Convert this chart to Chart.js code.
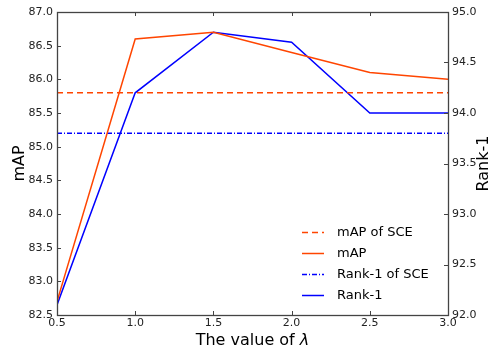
<!DOCTYPE html>
<html lang="en">
<head>
  <meta charset="UTF-8">
  <title>mAP / Rank-1 vs lambda</title>
  <script src="https://cdn.jsdelivr.net/npm/chart.js"></script>
  <style>
    body { margin: 0; background: #ffffff; }
    #wrap { width: 495px; height: 349px; }
  </style>
</head>
<body>
  <div id="wrap"><canvas id="chart" width="495" height="349"></canvas></div>

  <script>
    // values
    const lambdas = [0.5, 1.0, 1.5, 2.0, 2.5, 3.0];
    const mapVals = [82.7, 86.6, 86.7, 86.4, 86.1, 86.0];
    const rank1Vals = [92.1, 94.2, 94.8, 94.7, 94.0, 94.0];
    const mapSCE = 85.8;
    const rank1SCE = 93.8;

    const RED = "#ff4500";
    const BLUE = "#0000ff";
    const FONT = "'DejaVu Sans', sans-serif";

    const first = lambdas[0], last = lambdas[lambdas.length - 1];
    const pts = (ys) => lambdas.map((x, i) => ({ x: x, y: ys[i] }));
    const flat = (v) => [{ x: first, y: v }, { x: last, y: v }];

    // inward ticks, frame, axis titles and the legend box
    const decor = {
      id: "decor",
      afterDraw(chart) {
        const ctx = chart.ctx;
        const a = chart.chartArea;
        const sx = chart.scales.x, sl = chart.scales.y, sr = chart.scales.y2;
        ctx.save();
        ctx.strokeStyle = "#444";
        ctx.lineWidth = 1;
        ctx.beginPath();
        sx.ticks.forEach(t => {
          const p = Math.round(sx.getPixelForValue(t.value)) + 0.5;
          ctx.moveTo(p, a.bottom); ctx.lineTo(p, a.bottom - 4);
          ctx.moveTo(p, a.top); ctx.lineTo(p, a.top + 4);
        });
        sl.ticks.forEach(t => {
          const p = Math.round(sl.getPixelForValue(t.value)) + 0.5;
          ctx.moveTo(a.left, p); ctx.lineTo(a.left + 4, p);
        });
        sr.ticks.forEach(t => {
          const p = Math.round(sr.getPixelForValue(t.value)) + 0.5;
          ctx.moveTo(a.right, p); ctx.lineTo(a.right - 4, p);
        });
        ctx.stroke();
        ctx.lineWidth = 1.3;
        ctx.strokeRect(Math.round(a.left) + 0.5, Math.round(a.top) + 0.5,
          Math.round(a.right - a.left), Math.round(a.bottom - a.top));

        // axis titles
        ctx.fillStyle = "#000";
        ctx.font = "16px " + FONT;
        ctx.textAlign = "center";
        ctx.textBaseline = "middle";
        const cy = (a.top + a.bottom) / 2;
        ctx.save();
        ctx.translate(20, cy); ctx.rotate(-Math.PI / 2);
        ctx.fillText("mAP", 0, 0);
        ctx.restore();
        ctx.save();
        ctx.translate(484, cy); ctx.rotate(-Math.PI / 2);
        ctx.fillText("Rank-1", 0, 0);
        ctx.restore();
        const cx = (a.left + a.right) / 2;
        ctx.textBaseline = "alphabetic";
        const main = "The value of ";
        const wMain = ctx.measureText(main).width;
        ctx.font = "italic 16px " + FONT;
        const wL = ctx.measureText("\u03bb").width;
        const x0 = cx - (wMain + wL) / 2;
        ctx.textAlign = "left";
        ctx.font = "16px " + FONT;
        ctx.fillText(main, x0, 345);
        ctx.font = "italic 16px " + FONT;
        ctx.fillText("\u03bb", x0 + wMain, 345);

        // legend
        ctx.font = "13px " + FONT;
        ctx.textBaseline = "middle";
        chart.data.datasets.forEach((ds, i) => {
          const y = 232 + i * 21 + 0.5;
          ctx.strokeStyle = ds.borderColor;
          ctx.lineWidth = ds.borderWidth;
          ctx.setLineDash(ds.borderDash || []);
          ctx.beginPath();
          ctx.moveTo(302, y); ctx.lineTo(324, y);
          ctx.stroke();
          ctx.setLineDash([]);
          ctx.fillStyle = "#000";
          ctx.fillText(ds.label, 337, y);
        });
        ctx.restore();
      }
    };

    const tickFont = { family: FONT, size: 11 };
    const noGrid = { display: false, drawTicks: false, tickLength: 0 };

    new Chart(document.getElementById("chart"), {
      type: "line",
      data: {
        datasets: [
          { label: "mAP of SCE", data: flat(mapSCE), yAxisID: "y",
            borderColor: RED, borderWidth: 1.5, borderDash: [6, 4] },
          { label: "mAP", data: pts(mapVals), yAxisID: "y",
            borderColor: RED, borderWidth: 1.5 },
          { label: "Rank-1 of SCE", data: flat(rank1SCE), yAxisID: "y2",
            borderColor: BLUE, borderWidth: 1.5, borderDash: [5, 2, 1, 2] },
          { label: "Rank-1", data: pts(rank1Vals), yAxisID: "y2",
            borderColor: BLUE, borderWidth: 1.5 }
        ]
      },
      options: {
        responsive: false,
        animation: false,
        layout: { padding: { top: 12, right: 0, left: 0, bottom: 0 } },
        elements: { point: { radius: 0 }, line: { tension: 0, fill: false } },
        plugins: { legend: { display: false }, tooltip: { enabled: false } },
        scales: {
          x: {
            type: "linear", position: "bottom", min: 0.5, max: 3.0,
            grid: noGrid, border: { display: false },
            ticks: { stepSize: 0.5, autoSkip: false, maxRotation: 0, padding: 2,
              color: "#222", font: tickFont, callback: v => v.toFixed(1) },
            afterFit: s => { s.height = 34; }
          },
          y: {
            position: "left", min: 82.5, max: 87.0,
            grid: noGrid, border: { display: false },
            ticks: { stepSize: 0.5, padding: 4, color: "#222", font: tickFont,
              callback: v => v.toFixed(1) },
            afterFit: s => { s.width = 57; }
          },
          y2: {
            position: "right", min: 92.0, max: 95.0,
            grid: noGrid, border: { display: false },
            ticks: { stepSize: 0.5, padding: 4, color: "#222", font: tickFont,
              callback: v => v.toFixed(1) },
            afterFit: s => { s.width = 47; }
          }
        }
      },
      plugins: [decor]
    });
  </script>
</body>
</html>
